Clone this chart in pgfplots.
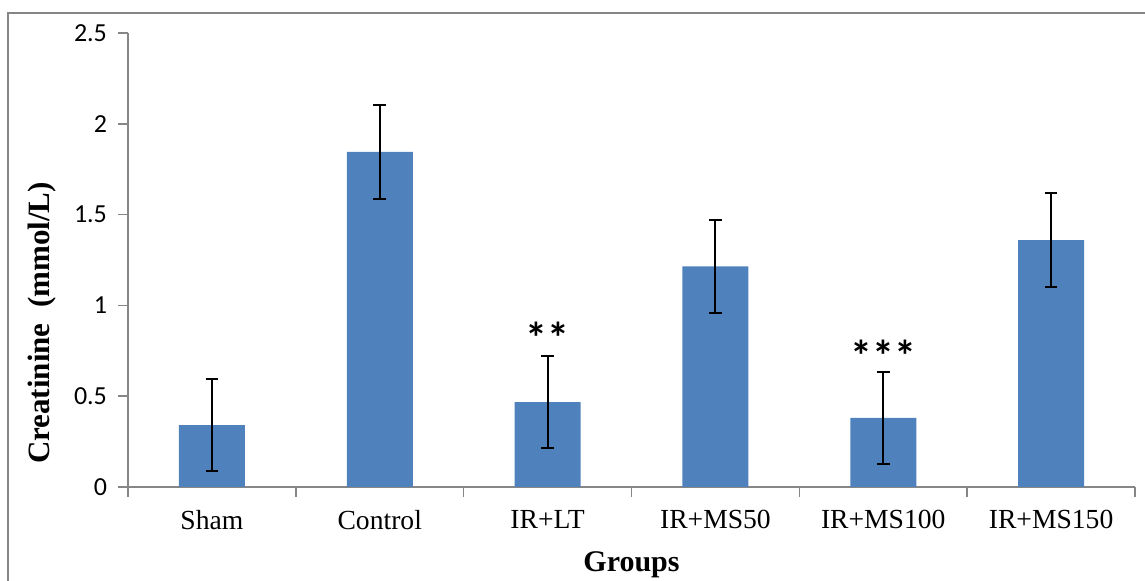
\documentclass[border=0pt]{standalone}
\usepackage{fontspec}
\setmainfont{Liberation Serif}
\newfontfamily\calibri{Carlito}
\usepackage{pgfplots}
\pgfplotsset{compat=1.18}
\definecolor{barblue}{HTML}{4F81BD}
\definecolor{axgray}{HTML}{868686}
\begin{document}
\begin{tikzpicture}
\path[use as bounding box] (0,0) rectangle (572.5pt,290.5pt);
\draw[axgray, line width=1pt] (4pt,0) -- (4pt,284pt) -- (572.5pt,284pt);
\begin{axis}[
  at={(64pt,47pt)}, anchor=south west,
  scale only axis, width=503.5pt, height=227pt,
  xmin=-0.5, xmax=5.5, ymin=0, ymax=2.5,
  axis x line=bottom, axis y line=left,
  axis line style={-, axgray, line width=0.8pt},
  xtick={-0.5,0.5,1.5,2.5,3.5,4.5,5.5},
  xticklabels={},
  xtick style={axgray, line width=0.8pt},
  extra x ticks={0,1,2,3,4,5},
  extra x tick labels={Sham,Control,IR+LT,IR+MS50,IR+MS100,IR+MS150},
  extra x tick style={major tick length=0pt},
  x tick label style={font=\fontsize{13.8}{15}\selectfont, yshift=-8pt},
  ytick={0,0.5,1,1.5,2,2.5},
  yticklabels={0,0.5,1,1.5,2,2.5},
  y tick label style={font=\calibri\fontsize{13}{15}\selectfont, xshift=-2pt},
  ytick style={axgray, line width=0.8pt},
  tick align=outside, major tick length=5pt,
  xlabel={\bfseries Groups},
  xlabel style={font=\fontsize{15}{17}\selectfont, at={(0.5,0)}, anchor=north, yshift=-29pt},
  ylabel={\bfseries Creatinine\ \ (mmol/L)},
  ylabel style={font=\fontsize{15.5}{17}\selectfont, anchor=center},
  every axis y label/.append style={at={(-43pt,82pt)}, anchor=center},
  clip=false,
]
\addplot[ybar, bar width=33pt, fill=barblue, draw=none,
  error bars/.cd, y dir=both, y explicit,
  error bar style={black, line width=1pt},
  error mark options={rotate=90, mark size=3.2pt, line width=1pt}]
coordinates {
  (0,0.34) +- (0,0.253)
  (1,1.845) +- (0,0.257)
  (2,0.468) +- (0,0.253)
  (3,1.215) +- (0,0.255)
  (4,0.38) +- (0,0.253)
  (5,1.36) +- (0,0.259)
};
\node[font=\calibri\bfseries\fontsize{22}{24}\selectfont] at (axis cs:2,0.82) {**};
\node[font=\calibri\bfseries\fontsize{22}{24}\selectfont] at (axis cs:4,0.72) {***};
\end{axis}
\end{tikzpicture}
\end{document}
